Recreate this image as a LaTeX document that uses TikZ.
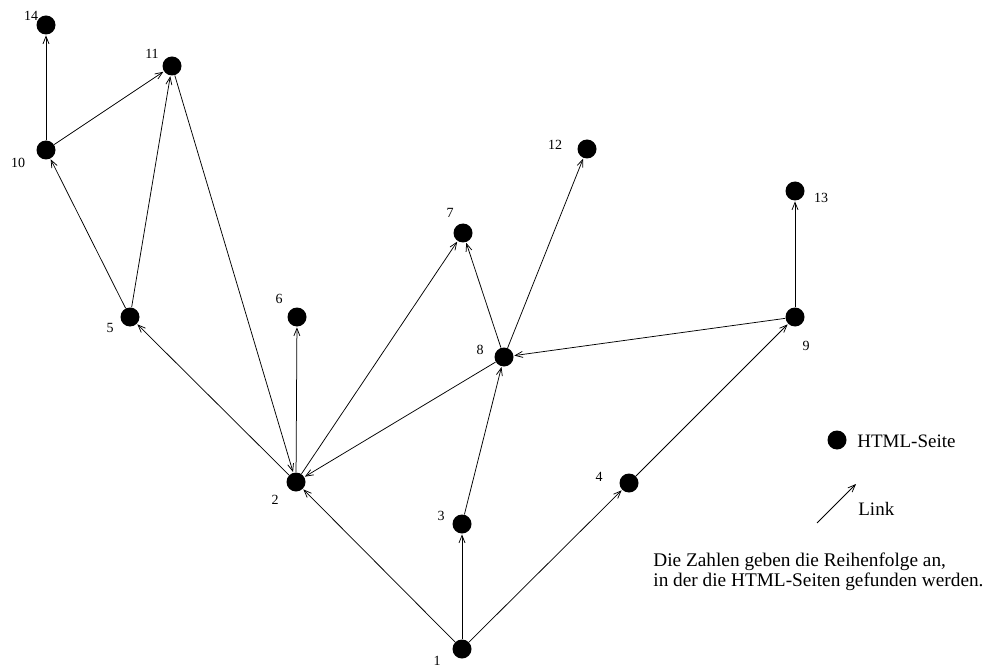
\documentclass[tikz,border=0pt]{standalone}
\usepackage{fontspec}
\setmainfont{Liberation Serif}
\usetikzlibrary{arrows.meta}
\begin{document}
\begin{tikzpicture}[x=1pt,y=-1pt,
  page/.style={circle,fill=black,minimum size=19pt,inner sep=0pt},
  lbl/.style={font=\fontsize{14}{14}\selectfont,inner sep=0pt},
  link/.style={line width=0.75pt,-{Straight Barb[length=7.5pt,width=6pt,line width=0.75pt]},shorten >=0.5pt},
  every path/.style={line width=0.75pt}]
\useasboundingbox (0,0) rectangle (987,668);
% nodes
\node[page] (n1) at (462,649) {};
\node[page] (n2) at (296,482) {};
\node[page] (n3) at (462,524) {};
\node[page] (n4) at (629,483) {};
\node[page] (n5) at (130,317) {};
\node[page] (n6) at (297,317) {};
\node[page] (n7) at (463,233) {};
\node[page] (n8) at (504,357) {};
\node[page] (n9) at (795,317) {};
\node[page] (n10) at (46,150) {};
\node[page] (n11) at (172,66) {};
\node[page] (n12) at (587,149) {};
\node[page] (n13) at (795,191) {};
\node[page] (n14) at (46,25) {};
% labels
\node[lbl] (l1) at (437,661) {1};
\node[lbl] (l2) at (275,500) {2};
\node[lbl] (l3) at (441,516) {3};
\node[lbl] (l4) at (599,477) {4};
\node[lbl] (l5) at (110,328) {5};
\node[lbl] (l6) at (279,299) {6};
\node[lbl] (l7) at (450,213) {7};
\node[lbl] (l8) at (480,350) {8};
\node[lbl] (l9) at (806,346) {9};
\node[lbl] (l10) at (18,163) {10};
\node[lbl] (l11) at (152,54) {11};
\node[lbl] (l12) at (555,145) {12};
\node[lbl] (l13) at (821,198) {13};
\node[lbl] (l14) at (31,16) {14};
% edges
\draw[link] (n1) -- (n2);
\draw[link] (n1) -- (n3);
\draw[link] (n1) -- (n4);
\draw[link] (n2) -- (n5);
\draw[link] (n2) -- (n6);
\draw[link] (n2) -- (n7);
\draw[link] (n8) -- (n2);
\draw[link] (n11) -- (n2);
\draw[link] (n5) -- (n10);
\draw[link] (n5) -- (n11);
\draw[link] (n10) -- (n11);
\draw[link] (n10) -- (n14);
\draw[link] (n3) -- (n8);
\draw[link] (n8) -- (n7);
\draw[link] (n8) -- (n12);
\draw[link] (n4) -- (n9);
\draw[link] (n9) -- (n8);
\draw[link] (n9) -- (n13);
% legend
\node[page] (lg) at (837,440) {};
\node[anchor=west,inner sep=0pt,font=\fontsize{19}{19}\selectfont] (lgt) at (857,441) {HTML-Seite};
\coordinate (la) at (817,523);
\coordinate (lb) at (856,484);
\draw[link,shorten >=0pt] (la) -- (lb);
\node[anchor=west,inner sep=0pt,font=\fontsize{19}{19}\selectfont] (lkt) at (858,509) {Link};
\node[anchor=north west,inner sep=0pt,align=left,font=\fontsize{19.3}{19.5}\selectfont] (txt) at (653,553) {Die Zahlen geben die Reihenfolge an,\\in der die HTML-Seiten gefunden werden.};
\end{tikzpicture}
\end{document}
